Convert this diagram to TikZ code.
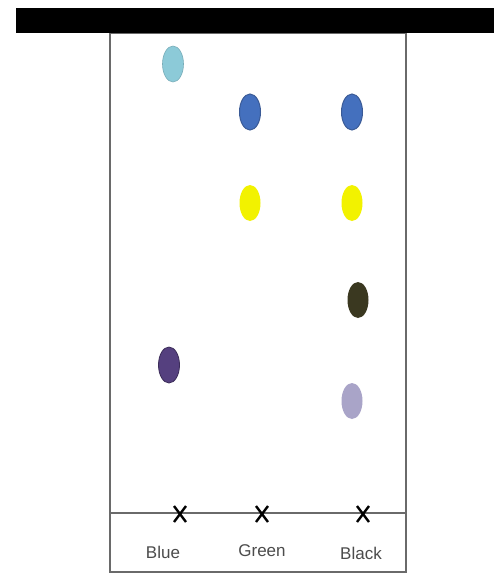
\documentclass[tikz,border=0pt]{standalone}
\usepackage{fontspec}
\setmainfont{Liberation Sans}
\usetikzlibrary{shapes.geometric}
\definecolor{lblue}{HTML}{8CCAD8}
\definecolor{mblue}{HTML}{4470BE}
\definecolor{mblueb}{HTML}{3A5A96}
\definecolor{yel}{HTML}{F2F200}
\definecolor{olive}{HTML}{3A3820}
\definecolor{purp}{HTML}{55407F}
\definecolor{lav}{HTML}{A9A4C8}
\definecolor{edge}{HTML}{6A6A6A}
\begin{document}
\begin{tikzpicture}[x=1pt,y=-1pt,
  spot/.style={ellipse, minimum width=21pt, minimum height=36pt, inner sep=0pt},
  cross/.style={line width=2.4pt, black},
  lbl/.style={font=\fontsize{17}{19}\selectfont, text=black!70}]
\useasboundingbox (0,0) rectangle (494,576);
\fill[white] (0,0) rectangle (494,576);
% paper
\draw[edge, line width=2.2pt] (110,33) rectangle (406,572);
\draw[edge, line width=2pt] (110,513) coordinate (bl) -- (406,513) coordinate (br);
% bar
\fill[black] (16,8) rectangle (494,33);
% spots
\node[spot, fill=lblue, draw=lblue!85!black, line width=0.6pt] (s1) at (173,64) {};
\node[spot, fill=mblue, draw=mblueb, line width=1pt] (s2) at (250,112) {};
\node[spot, fill=mblue, draw=mblueb, line width=1pt] (s3) at (352,112) {};
\node[spot, fill=yel] (s4) at (250,203) {};
\node[spot, fill=yel] (s5) at (352,203) {};
\node[spot, fill=olive] (s6) at (358,300) {};
\node[spot, fill=purp, draw=purp!70!black, line width=0.8pt] (s7) at (169,365) {};
\node[spot, fill=lav] (s8) at (352,401) {};
% crosses
\foreach \n/\x in {c1/180, c2/262, c3/363} {
  \coordinate (\n) at (\x,514);
  \draw[cross] ([shift={(-6,-8)}]\n) -- ([shift={(6,8)}]\n);
  \draw[cross] ([shift={(6,-8)}]\n) -- ([shift={(-6,8)}]\n);
}
% labels
\node[lbl] (l1) at (163,552) {Blue};
\node[lbl] (l2) at (262,551) {Green};
\node[lbl] (l3) at (361,553) {Black};
\end{tikzpicture}
\end{document}
